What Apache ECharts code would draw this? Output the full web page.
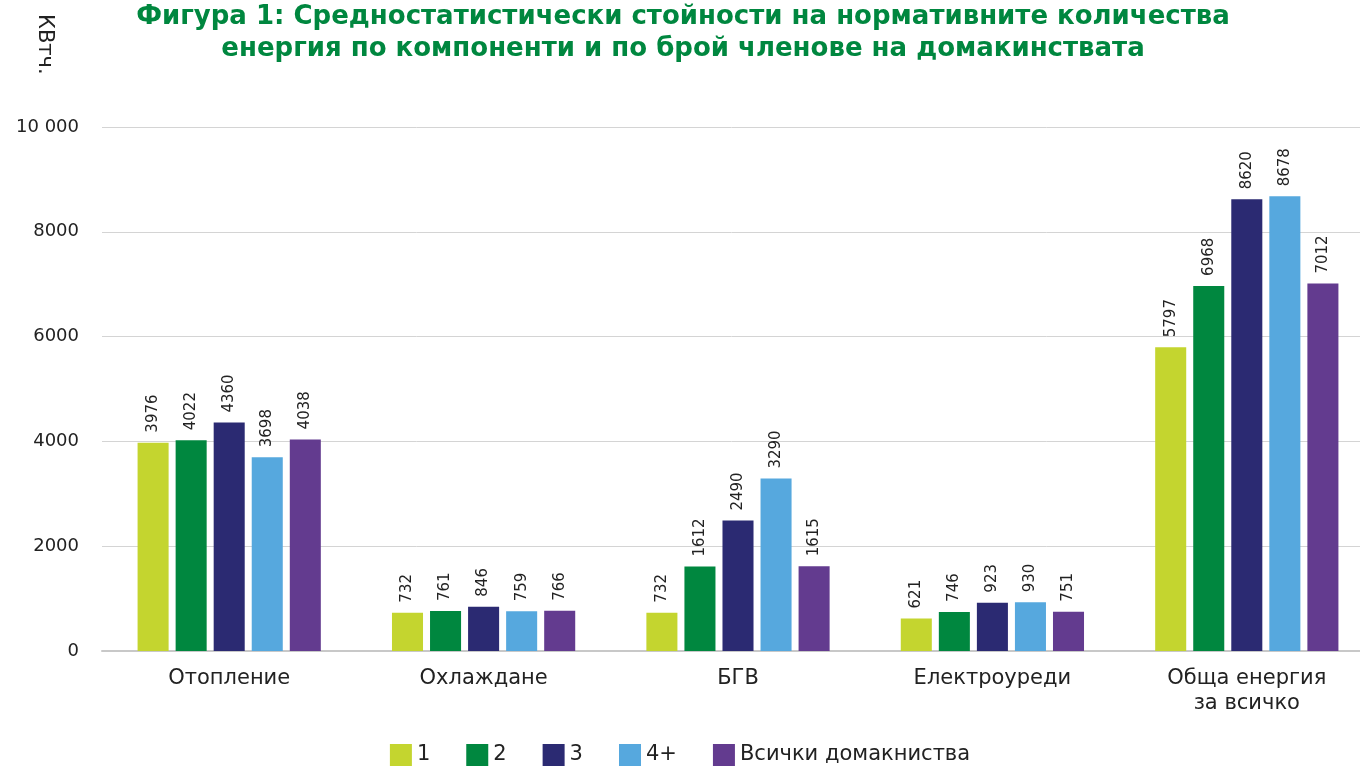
<!DOCTYPE html>
<html><head><meta charset="utf-8">
<script src="https://cdn.jsdelivr.net/npm/echarts@6/dist/echarts.min.js"></script>
<style>html,body{margin:0;padding:0;background:#fff}#c{width:1360px;height:767px}</style>
</head><body><div id="c"></div>
<script>
const categories = ['Отопление', 'Охлаждане', 'БГВ', 'Електроуреди', 'Обща енергия\nза всичко'];
const seriesNames = ['1', '2', '3', '4+', 'Всички домакниства'];
const s1 = [3976, 732, 732, 621, 5797];
const s2 = [4022, 761, 1612, 746, 6968];
const s3 = [4360, 846, 2490, 923, 8620];
const s4 = [3698, 759, 3290, 930, 8678];
const s5 = [4038, 766, 1615, 751, 7012];
const colors = ['#c4d52f', '#00873f', '#2b2a72', '#56a8de', '#633b8f'];
const yTicks = [0, 2000, 4000, 6000, 8000, 10000];

const chart = echarts.init(document.getElementById('c'));
const font = '"DejaVu Sans", "Noto Sans", sans-serif';
const data = [s1, s2, s3, s4, s5];
chart.setOption({
  animation: false,
  color: colors,
  title: {
    text: 'Фигура 1: Средностатистически стойности на нормативните количества\nенергия по компоненти и по брой членове на домакинствата',
    left: 678, top: -4, textAlign: 'center',
    textStyle: {color: '#00873f', fontSize: 26, fontWeight: 'bold', lineHeight: 32, fontFamily: font}
  },
  graphic: [{
    type: 'text', left: 34, top: 14,
    rotation: -Math.PI / 2,
    style: {text: 'КВтч.', fill: '#222', fontSize: 21, fontFamily: font}
  }],
  legend: {
    bottom: -4, left: 'center', itemWidth: 22, itemHeight: 22, itemGap: 36,
    icon: 'rect',
    textStyle: {fontSize: 21, color: '#222', fontFamily: font},
    data: seriesNames
  },
  grid: {left: 102, width: 1272, top: 127, bottom: 116, containLabel: false, outerBoundsMode: 'none'},
  xAxis: {
    type: 'category', data: categories,
    axisLine: {lineStyle: {color: '#c8c8c8', width: 2}},
    axisTick: {show: false},
    axisLabel: {fontSize: 21, color: '#222', margin: 15, lineHeight: 25, fontFamily: font}
  },
  yAxis: {
    type: 'value', min: 0, max: 10000, interval: 2000,
    axisLine: {show: false}, axisTick: {show: false},
    splitLine: {lineStyle: {color: '#d4d4d4', width: 1}},
    axisLabel: {
      fontSize: 18, color: '#222', margin: 23, fontFamily: font,
      formatter: v => yTicks.includes(v) ? (v === 10000 ? '10 000' : String(v)) : ''
    }
  },
  series: seriesNames.map((n, i) => ({
    name: n, type: 'bar', data: data[i],
    barWidth: '12.2%', barGap: '22.6%',
    itemStyle: {color: colors[i]},
    label: {
      show: true, position: 'top', rotate: 90, align: 'left', verticalAlign: 'middle',
      distance: 10, fontSize: 15, color: '#222', fontFamily: font
    }
  }))
});
</script></body></html>
